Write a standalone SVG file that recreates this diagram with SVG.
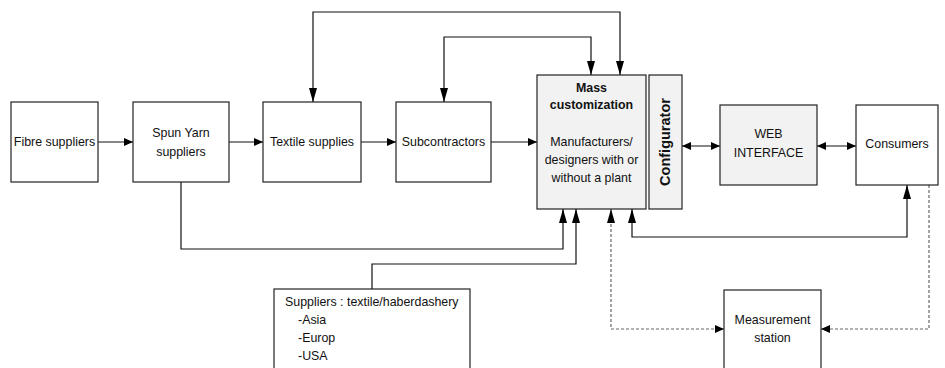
<svg xmlns="http://www.w3.org/2000/svg" width="945" height="368" viewBox="0 0 945 368">
<style>
.box{fill:#ffffff;stroke:#222;stroke-width:1.2}
.gbox{fill:#f2f2f2;stroke:#222;stroke-width:1.2}
.t{font-family:"Liberation Sans",Arial,sans-serif;font-size:12.4px;fill:#111;text-anchor:middle}
.tl{font-family:"Liberation Sans",Arial,sans-serif;font-size:12.4px;fill:#111}
.b{font-weight:bold}
.cf{font-size:14.5px}
.c{fill:none;stroke:#111;stroke-width:1.2}
.d{fill:none;stroke:#666;stroke-width:1.2;stroke-dasharray:3,2}
</style>
<defs>
<marker id="ah" markerUnits="userSpaceOnUse" markerWidth="9" markerHeight="8" refX="9" refY="4" orient="auto-start-reverse"><path d="M0,0 L9,4 L0,8 z" fill="#000"/></marker>
<marker id="av" markerUnits="userSpaceOnUse" markerWidth="14" markerHeight="8" refX="14" refY="4" orient="auto-start-reverse"><path d="M0,0 L14,4 L0,8 z" fill="#000"/></marker>
</defs>
<g id="connectors">
<line class="c" x1="98" y1="142" x2="133" y2="142" marker-end="url(#ah)"/>
<line class="c" x1="229" y1="142" x2="263" y2="142" marker-end="url(#ah)"/>
<line class="c" x1="361" y1="142" x2="396" y2="142" marker-end="url(#ah)"/>
<line class="c" x1="491" y1="142" x2="537" y2="142" marker-end="url(#ah)"/>
<line class="c" x1="682" y1="146" x2="720" y2="146" marker-start="url(#ah)" marker-end="url(#ah)"/>
<line class="c" x1="817" y1="146" x2="856" y2="146" marker-start="url(#ah)" marker-end="url(#ah)"/>
<polyline class="c" points="620,75 620,12 313,12 313,102" marker-start="url(#av)" marker-end="url(#av)"/>
<polyline class="c" points="591,75 591,37 444,37 444,102" marker-start="url(#av)" marker-end="url(#av)"/>
<polyline class="c" points="181,182 181,249 563,249 563,209" marker-end="url(#av)"/>
<polyline class="c" points="372,289 372,264 576,264 576,209" marker-end="url(#av)"/>
<polyline class="c" points="632,209 632,237 907,237 907,185" marker-start="url(#av)" marker-end="url(#av)"/>
<polyline class="d" points="611,209 611,329 724,329" marker-start="url(#av)" marker-end="url(#ah)"/>
<polyline class="d" points="929,185 929,329 821,329" marker-end="url(#ah)"/>
</g>
<g id="fibre">
<rect class="box" x="11" y="102" width="87" height="80"/>
<text class="t" x="54.5" y="146">Fibre suppliers</text>
</g>
<g id="spun">
<rect class="box" x="133" y="102" width="96" height="80"/>
<text class="t" x="181" y="137">Spun Yarn</text>
<text class="t" x="181" y="156">suppliers</text>
</g>
<g id="textile">
<rect class="box" x="263" y="102" width="98" height="80"/>
<text class="t" x="312" y="146">Textile supplies</text>
</g>
<g id="subcontractors">
<rect class="box" x="396" y="102" width="95" height="80"/>
<text class="t" x="443.5" y="146">Subcontractors</text>
</g>
<g id="mass">
<rect class="gbox" x="537" y="75" width="109" height="134"/>
<text class="t b" x="591.5" y="92">Mass</text>
<text class="t b" x="591.5" y="109">customization</text>
<text class="t" x="591.5" y="146">Manufacturers/</text>
<text class="t" x="591.5" y="164">designers with or</text>
<text class="t" x="591.5" y="182">without a plant</text>
</g>
<g id="configurator">
<rect class="gbox" x="649" y="75" width="33" height="134"/>
<text class="t b cf" x="0" y="0" transform="translate(670,142) rotate(-90)">Configurator</text>
</g>
<g id="web">
<rect class="gbox" x="720" y="105" width="97" height="80"/>
<text class="t" x="768.5" y="138">WEB</text>
<text class="t" x="768.5" y="157">INTERFACE</text>
</g>
<g id="consumers">
<rect class="box" x="856" y="105" width="82" height="80"/>
<text class="t" x="897" y="148">Consumers</text>
</g>
<g id="suppliers">
<rect class="box" x="274" y="289" width="196" height="90"/>
<text class="tl" x="285" y="306">Suppliers : textile/haberdashery</text>
<text class="tl" x="298" y="324">-Asia</text>
<text class="tl" x="298" y="342">-Europ</text>
<text class="tl" x="298" y="360">-USA</text>
</g>
<g id="measurement">
<rect class="box" x="724" y="290" width="97" height="90"/>
<text class="t" x="772.5" y="324">Measurement</text>
<text class="t" x="772.5" y="342">station</text>
</g>
</svg>
